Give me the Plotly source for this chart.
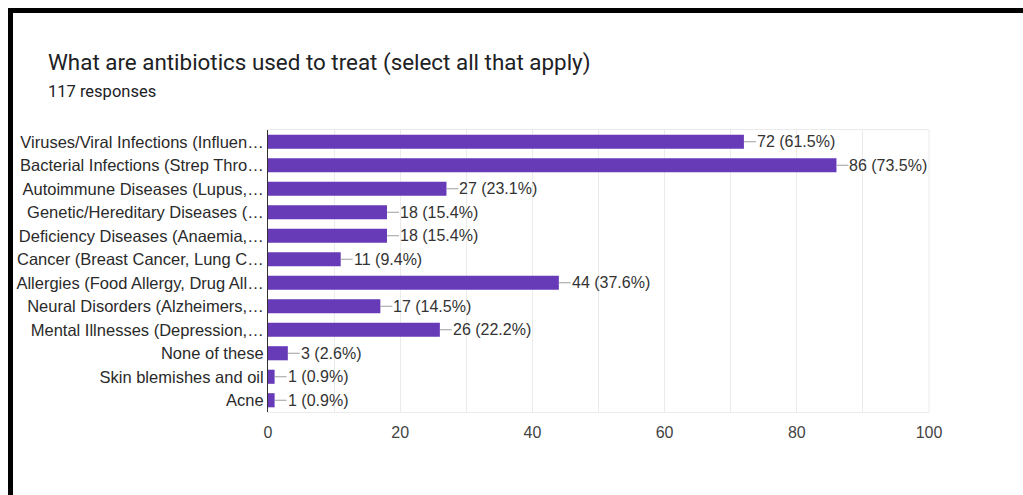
import plotly.graph_objects as go

# Survey question: answer options (as shown, truncated), counts and shares
categories = [
    "Viruses/Viral Infections (Influen…",
    "Bacterial Infections (Strep Thro…",
    "Autoimmune Diseases (Lupus,…",
    "Genetic/Hereditary Diseases (…",
    "Deficiency Diseases (Anaemia,…",
    "Cancer (Breast Cancer, Lung C…",
    "Allergies (Food Allergy, Drug All…",
    "Neural Disorders (Alzheimers,…",
    "Mental Illnesses (Depression,…",
    "None of these",
    "Skin blemishes and oil",
    "Acne",
]
counts = [72, 86, 27, 18, 18, 11, 44, 17, 26, 3, 1, 1]
percents = [61.5, 73.5, 23.1, 15.4, 15.4, 9.4, 37.6, 14.5, 22.2, 2.6, 0.9, 0.9]
x_ticks = [0, 20, 40, 60, 80, 100]

title_text = "What are antibiotics used to treat (select all that apply)"
subtitle_text = "117 responses"

W, H = 1023, 495
ML, MR, MT, MB = 268, 94, 130, 83
PW, PH = W - ML - MR, H - MT - MB

SANS = "Liberation Sans, Arial, sans-serif"
HEAD = "Roboto, Arial, sans-serif"


def px_x(px):
    return (px - ML) / PW


def px_y(py):
    return (H - MB - py) / PH


fig = go.Figure(
    go.Bar(
        x=counts,
        y=categories,
        orientation="h",
        marker=dict(color="#673ab7", line=dict(width=0)),
        hoverinfo="skip",
    )
)

annotations = []
for c, p, cat in zip(counts, percents, categories):
    annotations.append(dict(
        x=c, y=cat, xref="x", yref="y",
        text=f"{c} ({p}%)",
        showarrow=True, arrowhead=0, arrowwidth=1, arrowcolor="#9e9e9e",
        ax=12, ay=0, standoff=0, xanchor="left", borderpad=0,
        font=dict(family=SANS, size=16, color="#333333"),
    ))

annotations.append(dict(
    x=px_x(46), y=px_y(62), xref="paper", yref="paper",
    text=title_text, showarrow=False, xanchor="left", yanchor="middle",
    font=dict(family=HEAD, size=22.4, color="#202124"),
))
annotations.append(dict(
    x=px_x(46), y=px_y(91), xref="paper", yref="paper",
    text=subtitle_text, showarrow=False, xanchor="left", yanchor="middle",
    font=dict(family=HEAD, size=16.5, color="#202124"),
))

black = "#000000"
shapes = [
    # frame lines around the card
    dict(type="line", xref="paper", yref="paper",
         x0=px_x(10.5), x1=px_x(W + 5), y0=px_y(10.5), y1=px_y(10.5),
         line=dict(color=black, width=5)),
    dict(type="line", xref="paper", yref="paper",
         x0=px_x(10.5), x1=px_x(10.5), y0=px_y(8), y1=px_y(H + 5),
         line=dict(color=black, width=5)),
    # right edge of the plot area
    dict(type="line", xref="paper", yref="paper",
         x0=1, x1=1, y0=0, y1=1, line=dict(color="#ebebeb", width=1)),
]

fig.update_layout(
    width=W, height=H,
    margin=dict(l=ML, r=MR, t=MT, b=MB, pad=0),
    paper_bgcolor="white", plot_bgcolor="white",
    showlegend=False, bargap=0.4,
    annotations=annotations, shapes=shapes,
    font=dict(family=SANS, size=16, color="#222222"),
)
fig.update_xaxes(
    range=[0, 100], tickvals=x_ticks, ticks="", showgrid=True,
    gridcolor="#ebebeb", gridwidth=1,
    minor=dict(dtick=10, showgrid=True, gridcolor="#ebebeb", gridwidth=1),
    showline=True, linecolor="#ebebeb", linewidth=1, mirror=True,
    zeroline=False, ticklabelstandoff=6,
    tickfont=dict(family=SANS, size=16, color="#444444"),
    fixedrange=True,
)
fig.update_yaxes(
    autorange="reversed", showgrid=False, ticks="", automargin=False,
    showline=True, linecolor="#333333", linewidth=1,
    tickfont=dict(family=SANS, size=16.5, color="#2a2a2a"),
    fixedrange=True,
)

fig.write_html("out.html", config={"displayModeBar": False})
